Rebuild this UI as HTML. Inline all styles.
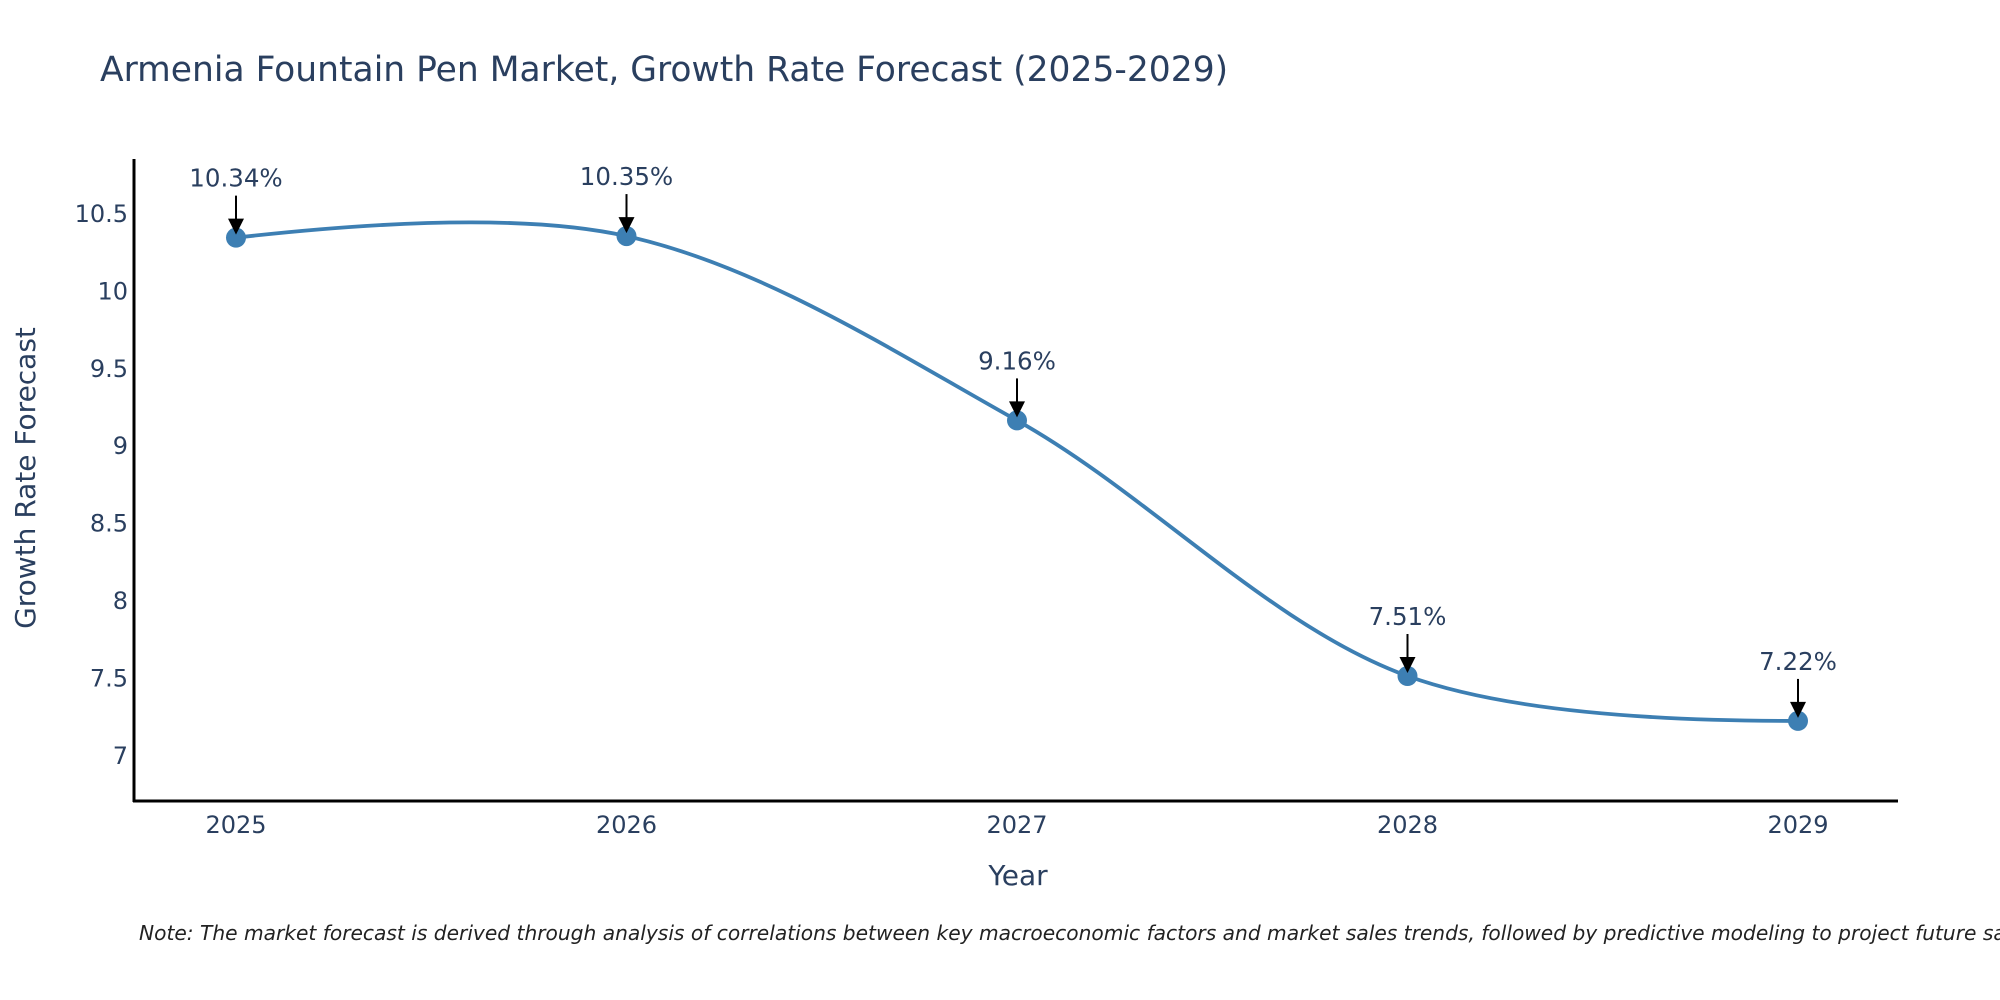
<!DOCTYPE html>
<html><head><meta charset="utf-8"><style>
body{margin:0;background:#fff;}
svg{display:block;font-family:"DejaVu Sans","Liberation Sans",sans-serif;}
</style></head><body>
<svg id="chart" width="2000" height="1000">
<text x="100" y="81" font-size="34.5" fill="#2a3f5f">Armenia Fountain Pen Market, Growth Rate Forecast (2025-2029)</text>
<g id="yticks"></g>
<g id="xticks"></g>
<path id="line" fill="none" stroke="#3d7fb3" stroke-width="3.8"/>
<g id="marks"></g>
<g id="ann"></g>
<line x1="134" y1="159" x2="134" y2="802" stroke="#000" stroke-width="3"/>
<line x1="133" y1="801" x2="1898" y2="801" stroke="#000" stroke-width="3"/>
<text x="1018" y="885" font-size="28" fill="#2a3f5f" text-anchor="middle">Year</text>
<text transform="translate(35,478) rotate(-90)" font-size="28" fill="#2a3f5f" text-anchor="middle">Growth Rate Forecast</text>
<text x="139" y="940" font-size="20.2" font-style="italic" fill="#222">Note: The market forecast is derived through analysis of correlations between key macroeconomic factors and market sales trends, followed by predictive modeling to project future sales.</text>
</svg>
<script>
const years=[2025,2026,2027,2028,2029];
const values=[10.34,10.35,9.16,7.51,7.22];
const labels=["10.34%","10.35%","9.16%","7.51%","7.22%"];
const yTicks=[7,7.5,8,8.5,9,9.5,10,10.5];
const yTickLabels=["7","7.5","8","8.5","9","9.5","10","10.5"];
const NS="http://www.w3.org/2000/svg";
function xs(v){return 236+(v-2025)*390.5;}
function ys(v){return 755-(v-7)*154.9;}
function mk(t,a,p){const e=document.createElementNS(NS,t);for(const k in a)e.setAttribute(k,a[k]);p.appendChild(e);return e;}
const yt=document.getElementById('yticks'),xt=document.getElementById('xticks');
yTicks.forEach((v,i)=>{const t=mk('text',{x:128,y:ys(v)+9,'font-size':24,fill:'#2a3f5f','text-anchor':'end'},yt);t.textContent=yTickLabels[i];

});
years.forEach(v=>{const t=mk('text',{x:xs(v),y:833,'font-size':24,fill:'#2a3f5f','text-anchor':'middle'},xt);t.textContent=String(v);

});
const pts=years.map((y,i)=>[xs(y),ys(values[i])]);
const s=1;const tang=[];
for(let i=1;i<pts.length-1;i++){const p=pts[i-1],c=pts[i],n=pts[i+1];
const d1x=c[0]-p[0],d1y=c[1]-p[1],d2x=n[0]-c[0],d2y=n[1]-c[1];
const d1a=Math.pow(d1x*d1x+d1y*d1y,0.25),d2a=Math.pow(d2x*d2x+d2y*d2y,0.25);
const numx=(d2a*d2a*d1x+d1a*d1a*d2x)*s,numy=(d2a*d2a*d1y+d1a*d1a*d2y)*s;
const dn1=3*d2a*(d1a+d2a),dn2=3*d1a*(d1a+d2a);
tang.push([[c[0]-(dn1&&numx/dn1),c[1]-(dn1&&numy/dn1)],[c[0]+(dn2&&numx/dn2),c[1]+(dn2&&numy/dn2)]]);}
let d='M'+pts[0]+' Q'+tang[0][0]+' '+pts[1];
for(let i=2;i<pts.length-1;i++)d+=' C'+tang[i-2][1]+' '+tang[i-1][0]+' '+pts[i];
d+=' Q'+tang[tang.length-1][1]+' '+pts[pts.length-1];
document.getElementById('line').setAttribute('d',d);
const mg=document.getElementById('marks'),ag=document.getElementById('ann');
pts.forEach((p,i)=>{const c=mk('circle',{cx:p[0],cy:p[1],r:10,fill:'#3d7fb3'},mg);


const l=mk('line',{x1:p[0],y1:p[1]-42,x2:p[0],y2:p[1]-14,stroke:'#000','stroke-width':2},ag);


const h=mk('path',{d:`M${p[0]-8},${p[1]-19} L${p[0]+8},${p[1]-19} L${p[0]},${p[1]-3} Z`,fill:'#000'},ag);


const t=mk('text',{x:p[0],y:p[1]-51,'font-size':24.5,fill:'#2a3f5f','text-anchor':'middle'},ag);t.textContent=labels[i];

});
</script>
</body></html>
